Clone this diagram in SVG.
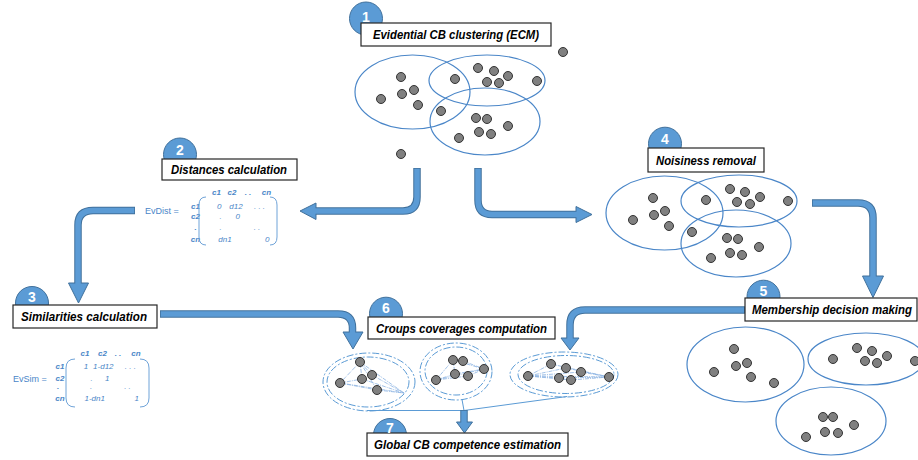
<svg xmlns="http://www.w3.org/2000/svg" width="918" height="460" viewBox="0 0 918 460">
<style>
.box{fill:#fff;stroke:#262626;stroke-width:1.2}
.badge{fill:#5b9bd5;stroke:#41719c;stroke-width:1}
.num{font-family:"Liberation Sans",Arial,sans-serif;font-weight:bold;font-size:14px;fill:#fff;text-anchor:middle}
.lbl{font-family:"Liberation Sans",Arial,sans-serif;font-weight:bold;font-style:italic;font-size:12.5px;fill:#000}
.cl{fill:none;stroke:#4a86c8;stroke-width:1.2}
.dot{fill:#808080;stroke:#333;stroke-width:1}
.grp{fill:none;stroke:#5b9bd5;stroke-width:1;stroke-dasharray:7 2 2 2}
.mesh{fill:none;stroke:#8db4e2;stroke-width:0.8;stroke-dasharray:4 1 1 1}
.mx{font-family:"Liberation Sans",Arial,sans-serif;font-size:8px;font-style:italic;fill:#4a86c8;text-anchor:middle}
.mxb{font-weight:bold}
.mxl{font-family:"Liberation Sans",Arial,sans-serif;font-size:9px;fill:#4a86c8}
.br{fill:none;stroke:#6fa3d8;stroke-width:1}
.so{fill:none;stroke:#41719c;stroke-width:7.5}
.si{fill:none;stroke:#5b9bd5;stroke-width:5.5}
.hd{fill:#5b9bd5;stroke:#41719c;stroke-width:1}
.thin{fill:none;stroke:#5b9bd5;stroke-width:1}
</style>

<!-- Scene: clusters -->
<g id="ecm-clusters">
<ellipse class="cl" cx="412.5" cy="92" rx="57.5" ry="37"/>
<ellipse class="cl" cx="487" cy="80.5" rx="58" ry="25.5"/>
<ellipse class="cl" cx="485" cy="121.5" rx="55" ry="33.5"/>
<circle class="dot" cx="563" cy="52" r="4.5"/><circle class="dot" cx="401" cy="77" r="4.5"/><circle class="dot" cx="402" cy="94" r="4.5"/><circle class="dot" cx="414" cy="90" r="4.5"/><circle class="dot" cx="381" cy="99" r="4.5"/><circle class="dot" cx="418" cy="105" r="4.5"/><circle class="dot" cx="455" cy="79" r="4.5"/><circle class="dot" cx="478" cy="68" r="4.5"/><circle class="dot" cx="494" cy="71" r="4.5"/><circle class="dot" cx="508" cy="76" r="4.5"/><circle class="dot" cx="487" cy="82" r="4.5"/><circle class="dot" cx="499" cy="83" r="4.5"/><circle class="dot" cx="537" cy="81" r="4.5"/><circle class="dot" cx="441" cy="111" r="4.5"/><circle class="dot" cx="476" cy="118" r="4.5"/><circle class="dot" cx="487" cy="119" r="4.5"/><circle class="dot" cx="508" cy="126" r="4.5"/><circle class="dot" cx="479" cy="132" r="4.5"/><circle class="dot" cx="491" cy="134" r="4.5"/><circle class="dot" cx="459" cy="138" r="4.5"/><circle class="dot" cx="401" cy="154" r="4.5"/>
</g>

<g id="noise-clusters">
<ellipse class="cl" cx="664.5" cy="213" rx="58.5" ry="37"/>
<ellipse class="cl" cx="739" cy="201" rx="58" ry="26"/>
<ellipse class="cl" cx="736" cy="243.5" rx="55" ry="33.5"/>
<circle class="dot" cx="653" cy="198" r="4.5"/><circle class="dot" cx="654" cy="215" r="4.5"/><circle class="dot" cx="665" cy="211" r="4.5"/><circle class="dot" cx="633" cy="220" r="4.5"/><circle class="dot" cx="669" cy="226" r="4.5"/><circle class="dot" cx="706" cy="200" r="4.5"/><circle class="dot" cx="730" cy="189" r="4.5"/><circle class="dot" cx="745" cy="192" r="4.5"/><circle class="dot" cx="760" cy="197" r="4.5"/><circle class="dot" cx="737" cy="202" r="4.5"/><circle class="dot" cx="750" cy="204" r="4.5"/><circle class="dot" cx="788" cy="201" r="4.5"/><circle class="dot" cx="692" cy="232" r="4.5"/><circle class="dot" cx="727" cy="238" r="4.5"/><circle class="dot" cx="738" cy="239" r="4.5"/><circle class="dot" cx="759" cy="247" r="4.5"/><circle class="dot" cx="730" cy="253" r="4.5"/><circle class="dot" cx="742" cy="255" r="4.5"/><circle class="dot" cx="711" cy="258" r="4.5"/>
</g>

<g id="membership-clusters">
<ellipse class="cl" cx="745.5" cy="364.5" rx="58.5" ry="37.5"/>
<ellipse class="cl" cx="866" cy="359" rx="58" ry="26"/>
<ellipse class="cl" cx="831" cy="421" rx="55" ry="34"/>
<circle class="dot" cx="734" cy="349" r="4.5"/><circle class="dot" cx="736" cy="366" r="4.5"/><circle class="dot" cx="747" cy="363" r="4.5"/><circle class="dot" cx="714" cy="372" r="4.5"/><circle class="dot" cx="751" cy="377" r="4.5"/><circle class="dot" cx="774" cy="383" r="4.5"/><circle class="dot" cx="833" cy="359" r="4.5"/><circle class="dot" cx="857" cy="348" r="4.5"/><circle class="dot" cx="872" cy="351" r="4.5"/><circle class="dot" cx="887" cy="356" r="4.5"/><circle class="dot" cx="865" cy="361" r="4.5"/><circle class="dot" cx="877" cy="363" r="4.5"/><circle class="dot" cx="915" cy="361" r="4.5"/><circle class="dot" cx="823" cy="417" r="4.5"/><circle class="dot" cx="833" cy="417" r="4.5"/><circle class="dot" cx="854" cy="425" r="4.5"/><circle class="dot" cx="825" cy="432" r="4.5"/><circle class="dot" cx="838" cy="433" r="4.5"/><circle class="dot" cx="806" cy="437" r="4.5"/>
</g>

<g id="group-coverages">
<ellipse class="grp" cx="369" cy="382" rx="46" ry="29"/>
<ellipse class="grp" cx="368" cy="382" rx="41" ry="25"/>
<path class="mesh" d="M360,362 L404,393 M372,375 L404,393 M362,379 L404,393 M340,383 L404,393 M377,390 L404,393 M360,362 L340,383 M360,362 L362,379 M360,362 L372,375 M340,383 L377,390 M340,383 L362,379 M360,362 L377,390"/>
<ellipse class="grp" cx="456" cy="371.5" rx="36" ry="28.5"/>
<ellipse class="grp" cx="456" cy="371" rx="31" ry="24"/>
<path class="mesh" d="M436,380 L453,360 M436,380 L455,374 M436,380 L484,369 M453,360 L484,369 M455,374 L484,369 M468,376 L484,369 M463,361 L484,369 M436,380 L468,376 M453,360 L455,374"/>
<ellipse class="grp" cx="564" cy="374.5" rx="54" ry="22.5"/>
<ellipse class="grp" cx="566" cy="374.5" rx="48" ry="19"/>
<path class="mesh" d="M528,376 L551,364 M528,376 L566,368 M528,376 L581,372 M528,376 L559,378 M528,376 L571,380 M528,376 L609,377 M551,364 L609,377 M566,368 L609,377 M581,372 L609,377 M559,378 L609,377 M571,380 L609,377"/>
<circle class="dot" cx="360" cy="362" r="4.5"/><circle class="dot" cx="372" cy="375" r="4.5"/><circle class="dot" cx="362" cy="379" r="4.5"/><circle class="dot" cx="340" cy="383" r="4.5"/><circle class="dot" cx="377" cy="390" r="4.5"/>
<circle class="dot" cx="453" cy="360" r="4.5"/><circle class="dot" cx="463" cy="361" r="4.5"/><circle class="dot" cx="484" cy="369" r="4.5"/><circle class="dot" cx="455" cy="374" r="4.5"/><circle class="dot" cx="468" cy="376" r="4.5"/><circle class="dot" cx="436" cy="380" r="4.5"/>
<circle class="dot" cx="551" cy="364" r="4.5"/><circle class="dot" cx="566" cy="368" r="4.5"/><circle class="dot" cx="581" cy="372" r="4.5"/><circle class="dot" cx="528" cy="376" r="4.5"/><circle class="dot" cx="559" cy="378" r="4.5"/><circle class="dot" cx="571" cy="380" r="4.5"/><circle class="dot" cx="609" cy="377" r="4.5"/>
</g>

<!-- Matrices -->
<g id="evdist-matrix">
<text class="mxl" x="145" y="214">EvDist =</text>
<text class="mx mxb" x="216.5" y="195">c1</text><text class="mx mxb" x="232" y="195">c2</text><text class="mx mxb" x="248" y="195">. .</text><text class="mx mxb" x="266.5" y="195">cn</text>
<text class="mx mxb" x="195.5" y="209">c1</text><text class="mx mxb" x="195.5" y="219">c2</text><text class="mx mxb" x="195.5" y="230">.</text><text class="mx mxb" x="195.5" y="242">cn</text>
<path class="br" d="M206,197 Q199,197 199,205 V237 Q199,245 206,245"/>
<path class="br" d="M270,197 Q277,197 277,205 V237 Q277,245 270,245"/>
<text class="mx" x="219.3" y="209">0</text><text class="mx" x="236" y="209">d12</text><text class="mx" x="259.5" y="209">. . .</text>
<text class="mx" x="220.7" y="219">.</text><text class="mx" x="237.7" y="219">0</text>
<text class="mx" x="220.7" y="230">.</text><text class="mx" x="257" y="230">. .</text>
<text class="mx" x="225" y="242">dn1</text><text class="mx" x="267.3" y="242">0</text>
</g>

<g id="evsim-matrix">
<text class="mxl" x="13" y="382">EvSim =</text>
<text class="mx mxb" x="85" y="355.5">c1</text><text class="mx mxb" x="102.5" y="355.5">c2</text><text class="mx mxb" x="118" y="355.5">. .</text><text class="mx mxb" x="136" y="355.5">cn</text>
<text class="mx mxb" x="60" y="369">c1</text><text class="mx mxb" x="60" y="380.5">c2</text><text class="mx mxb" x="58" y="389">.</text><text class="mx mxb" x="60" y="401">cn</text>
<path class="br" d="M75,359 Q66,359 66,368 V398 Q66,407 75,407"/>
<path class="br" d="M140,359 Q149,359 149,368 V398 Q149,407 140,407"/>
<text class="mx" x="86" y="369">1</text><text class="mx" x="103.3" y="369">1-d12</text><text class="mx" x="130.3" y="369">. . .</text>
<text class="mx" x="91.7" y="380.5">.</text><text class="mx" x="107.3" y="380.5">1</text>
<text class="mx" x="91" y="389">.</text><text class="mx" x="127.5" y="389">. .</text>
<text class="mx" x="94.7" y="401">1-dn1</text><text class="mx" x="136.7" y="401">1</text>
</g>

<!-- Connectors -->
<g id="connectors">
<path class="so" d="M417,168 V197 Q417,211 403,211 H316"/>
<polygon class="hd" points="316,203 300,211 316,219.5"/>
<path class="si" d="M417,168.8 V197 Q417,211 403,211 H314"/>
<path class="so" d="M478,168 V200 Q478,214.5 492,214.5 H576"/>
<polygon class="hd" points="576,206.5 592,214.5 576,222.5"/>
<path class="si" d="M478,168.8 V200 Q478,214.5 492,214.5 H578"/>
<path class="so" d="M135,210.5 H93 Q78,210.5 78,225 V283"/>
<polygon class="hd" points="68.5,283 78.5,303 88.5,283"/>
<path class="si" d="M134.2,210.5 H93 Q78,210.5 78,225 V285"/>
<path class="so" d="M812,203 H858 Q873,203 873,218 V276"/>
<polygon class="hd" points="862.5,276 873,297.5 883.5,276"/>
<path class="si" d="M812.8,203 H858 Q873,203 873,218 V278"/>
<path class="so" d="M160,314 H338 Q352.5,314 352.5,328 V332"/>
<polygon class="hd" points="343,332 353,349 363,332"/>
<path class="si" d="M160.8,314 H338 Q352.5,314 352.5,328 V334"/>
<path class="so" d="M745,310 H585 Q570,310 570,325 V338"/>
<polygon class="hd" points="561,338 570,350 579,338"/>
<path class="si" d="M744.2,310 H585 Q570,310 570,325 V340"/>
<path class="thin" d="M367,410.5 H464 M462,399.5 L464,410.5 M567,396.5 L464,410.5"/>
<path class="so" d="M464,410 V422"/>
<polygon class="hd" points="456.5,422 464.5,433 472.5,422"/>
<path class="si" d="M464,410.8 V424"/>
</g>

<!-- Nodes -->
<g id="node1">
<circle class="badge" cx="366" cy="18.5" r="16.5"/>
<rect class="box" x="361" y="23" width="190" height="23"/>
<text class="lbl" x="373" y="39" textLength="166" lengthAdjust="spacingAndGlyphs">Evidential CB clustering (ECM)</text>
<text class="num" x="366" y="22">1</text>
</g>
<g id="node2">
<circle class="badge" cx="180" cy="154.5" r="16.5"/>
<rect class="box" x="162" y="159" width="135" height="21"/>
<text class="lbl" x="171" y="174" textLength="116" lengthAdjust="spacingAndGlyphs">Distances calculation</text>
<text class="num" x="180" y="155">2</text>
</g>
<g id="node3">
<circle class="badge" cx="32" cy="303" r="16.5"/>
<rect class="box" x="13" y="305" width="144" height="23"/>
<text class="lbl" x="21" y="321" textLength="126" lengthAdjust="spacingAndGlyphs">Similarities calculation</text>
<text class="num" x="32" y="302">3</text>
</g>
<g id="node4">
<circle class="badge" cx="665" cy="143.7" r="16.5"/>
<rect class="box" x="648" y="148" width="116" height="24"/>
<text class="lbl" x="656" y="165" textLength="100" lengthAdjust="spacingAndGlyphs">Noisiness removal</text>
<text class="num" x="665" y="144">4</text>
</g>
<g id="node5">
<circle class="badge" cx="763.5" cy="296.7" r="16.5"/>
<rect class="box" x="745" y="298" width="172" height="23"/>
<text class="lbl" x="752" y="314" textLength="160" lengthAdjust="spacingAndGlyphs">Membership decision making</text>
<text class="num" x="763.5" y="296">5</text>
</g>
<g id="node6">
<circle class="badge" cx="386" cy="313.7" r="16.5"/>
<rect class="box" x="368" y="317" width="187" height="22"/>
<text class="lbl" x="376" y="333" textLength="171" lengthAdjust="spacingAndGlyphs">Croups coverages computation</text>
<text class="num" x="386" y="313">6</text>
</g>
<g id="node7">
<circle class="badge" cx="390" cy="435" r="16.5"/>
<rect class="box" x="367" y="433" width="201" height="23"/>
<text class="lbl" x="374" y="449" textLength="187" lengthAdjust="spacingAndGlyphs">Global CB competence estimation</text>
<text class="num" x="390" y="433">7</text>
</g>
</svg>
